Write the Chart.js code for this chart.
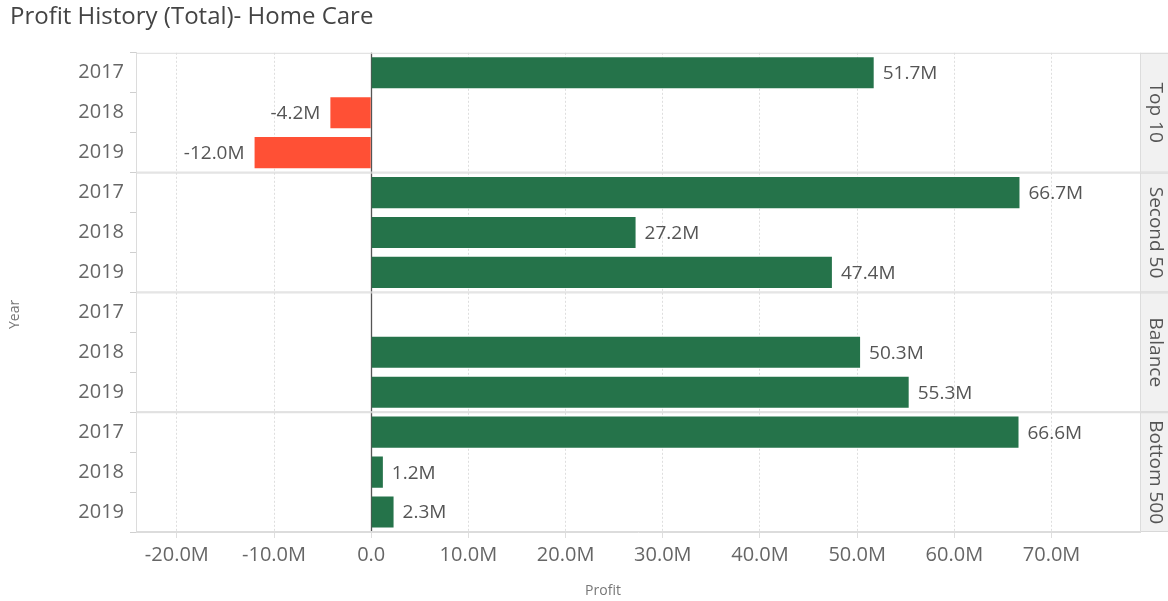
<!DOCTYPE html>
<html>
<head>
<meta charset="utf-8">
<title>Profit History (Total)- Home Care</title>
<script src="https://cdn.jsdelivr.net/npm/chart.js@4.4.1/dist/chart.umd.min.js"></script>
<style>
    html, body { margin: 0; padding: 0; background: #fff; }
    #wrap { width: 1168px; height: 601px; position: relative; }
</style>
</head>
<body>
<div id="wrap"><canvas id="profitChart"></canvas></div>
<script>
// Profit per segment and year, in millions
const segments = ['Top 10', 'Second 50', 'Balance', 'Bottom 500'];
const years = ['2017', '2018', '2019'];
const top10 = [51.7, -4.2, -12.0];
const second50 = [66.7, 27.2, 47.4];
const balance = [null, 50.3, 55.3];
const bottom500 = [66.6, 1.2, 2.3];
const xMin = -24.2;
const xMax = 79.1;
const xStep = 10;

const FONT = "'Open Sans', 'Liberation Sans', sans-serif";
const GREEN = '#25734a';
const RED = '#ff5035';

const labels = segments.flatMap(() => years);
const values = [...top10, ...second50, ...balance, ...bottom500];

function fmtM(v) {
    return v === 0 ? '0.0' : v.toFixed(1) + 'M';
}

// zero line, panel frames, strip labels, axis titles and bar value labels
const facetPlugin = {
    id: 'facets',
    beforeDatasetsDraw(chart) {
        const { ctx, chartArea: a, scales: { x } } = chart;
        const x0 = Math.round(x.getPixelForValue(0)) + 0.5;
        ctx.save();
        ctx.strokeStyle = '#555';
        ctx.lineWidth = 1.3;
        ctx.beginPath();
        ctx.moveTo(x0, a.top);
        ctx.lineTo(x0, a.bottom);
        ctx.stroke();
        ctx.restore();
    },
    afterDatasetsDraw(chart) {
        const { ctx, chartArea: a, scales: { y } } = chart;
        const stripW = 28;
        ctx.save();
        segments.forEach((name, p) => {
            const top = p === 0 ? a.top : y.getPixelForValue(p * 3 - 0.5);
            const bottom = p === segments.length - 1 ? a.bottom : y.getPixelForValue(p * 3 + 2.5);

            // strip
            ctx.fillStyle = '#f1f1f1';
            ctx.fillRect(a.right, top, stripW, bottom - top);
            ctx.strokeStyle = '#d8d8d8';
            ctx.lineWidth = 1;
            ctx.strokeRect(a.right + 0.5, top + 0.5, stripW, bottom - top - 1);

            // panel frame
            ctx.strokeStyle = '#dcdcdc';
            ctx.lineWidth = 1;
            ctx.strokeRect(a.left + 0.5, top + 0.5, a.right - a.left, bottom - top - 1);

            ctx.save();
            ctx.translate(a.right + stripW / 2 + 1, (top + bottom) / 2);
            ctx.rotate(Math.PI / 2);
            ctx.fillStyle = '#555';
            ctx.font = '19px ' + FONT;
            ctx.textAlign = 'center';
            ctx.textBaseline = 'middle';
            ctx.fillText(name, 0, 0);
            ctx.restore();
        });

        // value labels
        const meta = chart.getDatasetMeta(0);
        ctx.font = '19px ' + FONT;
        ctx.fillStyle = '#555';
        ctx.textBaseline = 'middle';
        meta.data.forEach((bar, i) => {
            const v = values[i];
            if (v === null || v === undefined) return;
            if (v >= 0) {
                ctx.textAlign = 'left';
                ctx.fillText(fmtM(v), bar.x + 9, bar.y + 1);
            } else {
                ctx.textAlign = 'right';
                ctx.fillText(fmtM(v), bar.x - 10, bar.y + 1);
            }
        });

        // axis titles
        ctx.font = '14px ' + FONT;
        ctx.fillStyle = '#777';
        ctx.textAlign = 'center';
        ctx.fillText('Profit', (a.left + a.right) / 2 - 35, chart.height - 10);
        ctx.save();
        ctx.translate(15, (a.top + a.bottom) / 2 + 22);
        ctx.rotate(-Math.PI / 2);
        ctx.fillText('Year', 0, 0);
        ctx.restore();
        ctx.restore();
    }
};

const ctx = document.getElementById('profitChart').getContext('2d');
new Chart(ctx, {
    type: 'bar',
    data: {
        labels: labels,
        datasets: [{
            label: 'Profit',
            data: values,
            backgroundColor: values.map(v => (v !== null && v < 0) ? RED : GREEN),
            borderWidth: 0,
            categoryPercentage: 1,
            barPercentage: 0.78
        }]
    },
    options: {
        indexAxis: 'y',
        responsive: true,
        maintainAspectRatio: false,
        animation: false,
        layout: { padding: { left: 10, right: 28, top: 0, bottom: 0 } },
        plugins: {
            legend: { display: false },
            tooltip: { enabled: false },
            title: {
                display: true,
                text: 'Profit History (Total)- Home Care',
                align: 'start',
                color: '#444',
                font: { family: FONT, size: 24, weight: 'normal' },
                padding: { top: 3, bottom: 21 }
            }
        },
        scales: {
            x: {
                type: 'linear',
                min: xMin,
                max: xMax,
                afterFit: s => { s.height = 69; },
                ticks: {
                    stepSize: xStep,
                    includeBounds: false,
                    color: '#666',
                    padding: 5,
                    font: { family: FONT, size: 20 },
                    callback: v => fmtM(v)
                },
                grid: {
                    color: c => c.tick && c.tick.value === 0 ? 'rgba(0,0,0,0)' : '#dedede',
                    lineWidth: 1,
                    tickColor: '#dedede',
                    tickLength: 6
                },
                border: { display: true, color: '#dcdcdc', dash: [2, 2] }
            },
            y: {
                type: 'category',
                afterFit: s => { s.width = 126; },
                ticks: {
                    color: '#666',
                    padding: 6,
                    font: { family: FONT, size: 20 }
                },
                grid: {
                    offset: true,
                    drawOnChartArea: false,
                    tickColor: '#cfcfcf',
                    tickLength: 6
                },
                border: { display: true, color: '#dcdcdc' }
            }
        }
    },
    plugins: [facetPlugin]
});
</script>
</body>
</html>
